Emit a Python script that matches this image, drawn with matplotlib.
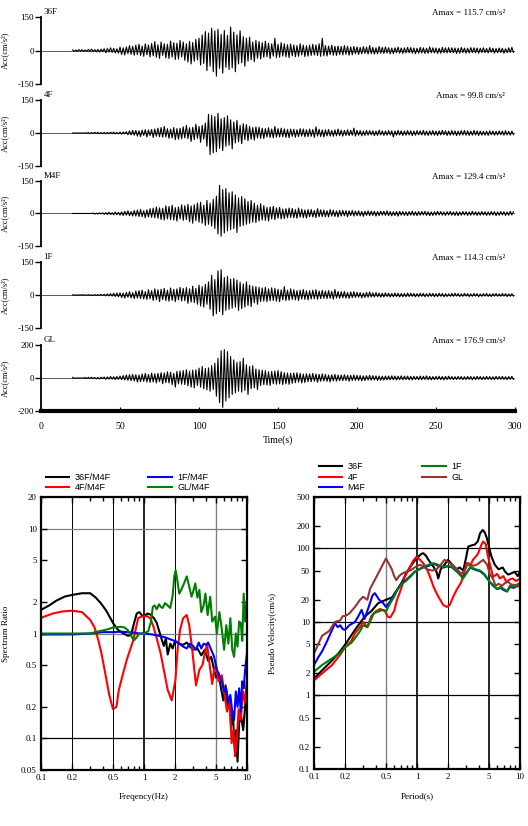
"""
Acceleration records, spectrum ratios and pseudo velocity spectra
"""
import numpy as np
import matplotlib
matplotlib.use('Agg')
import matplotlib.pyplot as plt

plt.rcParams['font.family'] = ['Liberation Serif', 'DejaVu Serif']

# ---- acceleration traces, one value per second starting at t = 20 s ----
t_start = 20
trace_names = ['36F', '4F', 'M4F', '1F', 'GL']
amax_values = [115.7, 99.8, 129.4, 114.3, 176.9]
ylims = [150, 150, 150, 150, 200]

acc_36f = [
    3, -4, 2, -3, 4, -2, 3, -4, 2, -3, 5, -4, 6, -5, 4, -6, 5, -7, 6, -5,
    8, -10, 9, -7, 12, -9, 10, -11, 8, -12, 15, -18, 12, -20, 16, -14, 22, -17, 19, -21,
    24, -18, 28, -22, 20, -26, 30, -19, 25, -28, 32, -24, 40, -30, 26, -35, 38, -22, 30, -33,
    28, -36, 42, -30, 35, -40, 33, -38, 45, -29, 38, -44, 30, -52, 41, -60, 36, -48, 50, -42,
    55, -65, 70, -58, 85, -90, 78, -70, 100, -95, 88, -115, 95, -80, 72, -102, 90, -75, 68, -85,
    105, -78, 82, -95, 70, -60, 88, -55, 62, -70, 55, -48, 60, -42, 38, -50, 45, -35, 40, -38,
    35, -30, 42, -28, 33, -36, 30, -25, 55, -32, 28, -30, 35, -25, 30, -28, 26, -32, 29, -24,
    25, -28, 22, -26, 30, -20, 24, -27, 21, -25, 24, -22, 28, -20, 25, -23, 30, -26, 55, -24,
    22, -25, 20, -18, 24, -21, 19, -22, 20, -18, 18, -20, 22, -17, 19, -21, 16, -19, 18, -15,
    16, -18, 14, -15, 17, -13, 15, -16, 22, -14, 14, -16, 12, -15, 18, -12, 14, -13, 16, -11,
    13, -15, 11, -14, 12, -10, 15, -12, 11, -13, 12, -11, 14, -10, 13, -12, 11, -14, 10, -12,
    14, -11, 12, -13, 10, -12, 16, -10, 12, -11, 11, -13, 10, -12, 14, -10, 12, -11, 13, -10,
    12, -10, 11, -13, 10, -12, 14, -9, 11, -12, 10, -11, 13, -9, 12, -10, 11, -12, 10, -9,
    12, -10, 9, -11, 13, -8, 10, -12, 9, -10, 11, -9, 10, -12, 8, -10, 12, -9, 14, -8,
]
acc_4f = [
    0, 0, 0, 0, 0, 0, 0, 0, 0, 0, 2, -3, 2, -2, 3, -2, 3, -3, 2, -3,
    3, -4, 3, -3, 4, -3, 4, -4, 3, -4, 4, -5, 5, -4, 6, -8, 10, -9, 12, -10,
    12, -14, 10, -16, 13, -11, 15, -18, 14, -12, 16, -20, 18, -15, 22, -17, 25, -19, 30, -18,
    20, -24, 18, -22, 25, -30, 20, -28, 22, -26, 28, -22, 35, -25, 24, -38, 26, -30, 40, -24,
    30, -42, 35, -28, 45, -60, 85, -98, 80, -90, 75, -85, 90, -70, 65, -80, 70, -60, 78, -55,
    60, -72, 50, -45, 58, -40, 35, -48, 42, -30, 38, -35, 30, -28, 25, -32, 28, -22, 26, -24,
    22, -25, 20, -18, 24, -20, 18, -22, 30, -19, 20, -18, 22, -17, 19, -20, 16, -21, 18, -15,
    17, -19, 15, -16, 20, -14, 18, -17, 15, -16, 18, -15, 16, -20, 28, -14, 17, -16, 14, -18,
    15, -13, 16, -14, 12, -15, 14, -13, 18, -12, 13, -14, 12, -11, 15, -12, 13, -10, 22, -14,
    12, -10, 11, -13, 9, -11, 12, -10, 11, -9, 10, -12, 9, -11, 13, -9, 10, -11, 9, -10,
    11, -9, 10, -18, 9, -10, 12, -9, 10, -11, 9, -10, 11, -9, 10, -12, 9, -10, 11, -8,
    10, -9, 12, -10, 9, -11, 10, -9, 11, -10, 9, -11, 10, -9, 12, -8, 10, -11, 9, -10,
    11, -9, 10, -12, 9, -10, 11, -9, 12, -10, 10, -11, 9, -10, 12, -9, 10, -11, 9, -10,
    8, -10, 9, -11, 10, -8, 9, -10, 8, -9, 10, -8, 9, -10, 11, -9, 8, -10, 9, -8,
]
acc_m4f = [
    0, 0, 0, 0, 0, 0, 0, 0, 0, 0, 0, 0, 0, 2, -3, 2, -3, 3, -2, 3,
    -4, 4, -5, 6, -5, 4, -6, 7, -6, 5, -8, 7, -9, 10, -8, 12, -10, 9, -12, 14,
    -12, 16, -14, 18, -15, 13, -20, 17, -16, 22, -18, 25, -20, 30, -22, 26, -28, 24, -30, 35,
    -25, 32, -28, 38, -30, 27, -35, 30, -25, 40, -32, 36, -28, 42, -38, 35, -45, 40, -33, 48,
    -40, 52, -45, 38, -55, 60, -50, 48, -58, 65, -70, 80, -95, 130, -105, 110, -90, 115, -80, 95,
    -75, 100, -70, 85, -88, 72, -60, 78, -55, 68, -50, 55, -45, 60, -40, 48, -42, 38, -35, 45,
    -30, 36, -32, 28, -35, 30, -25, 33, -28, 26, -22, 28, -25, 20, -24, 22, -20, 25, -18, 23,
    -20, 18, -22, 25, -17, 20, -19, 16, -21, 18, -15, 18, -16, 14, -19, 22, -15, 17, -14, 16,
    -15, 13, -16, 18, -12, 15, -14, 12, -16, 14, -12, 14, -11, 13, -15, 12, -10, 14, -12, 11,
    -10, 12, -11, 9, -13, 10, -9, 12, -10, 11, -9, 10, -12, 9, -10, 11, -8, 10, -9, 12,
    -10, 9, -11, 8, -10, 9, -12, 10, -8, 9, -9, 8, -10, 9, -8, 11, -9, 8, -10, 9,
    -8, 9, -7, 10, -9, 8, -10, 7, -9, 8, -8, 10, -7, 9, -8, 7, -9, 8, -7, 10,
    -8, 7, -9, 8, -10, 7, -8, 9, -7, 8, -9, 7, -8, 10, -7, 8, -9, 7, -8, 9,
    -7, 8, -9, 7, -8, 9, -7, 8, -10, 7, -8, 9, -7, 8, -9, 7, -8, 10, -7, 8,
]
acc_1f = [
    1, -1, 1, -2, 1, -1, 2, -1, 1, -2, 2, -2, 1, -2, 2, -3, 2, -2, 3, -2,
    3, -4, 5, -4, 6, -5, 8, -7, 9, -8, 10, -12, 9, -14, 12, -10, 15, -13, 11, -16,
    18, -14, 20, -16, 22, -18, 15, -20, 24, -17, 20, -25, 28, -22, 24, -30, 26, -21, 30, -25,
    22, -28, 32, -24, 26, -30, 28, -22, 35, -27, 30, -26, 34, -38, 28, -32, 40, -35, 30, -42,
    45, -50, 38, -55, 48, -42, 60, -65, 90, -95, 70, -85, 110, -75, 115, -90, 80, -70, 85, -65,
    72, -60, 75, -55, 68, -70, 58, -62, 50, -55, 60, -48, 45, -52, 40, -35, 38, -42, 35, -30,
    32, -28, 35, -30, 28, -26, 33, -25, 30, -28, 26, -30, 24, -22, 38, -25, 22, -24, 28, -20,
    24, -22, 20, -25, 22, -18, 25, -20, 19, -22, 20, -18, 22, -17, 24, -19, 18, -16, 21, -15,
    18, -16, 20, -15, 17, -19, 25, -14, 16, -15, 15, -13, 16, -14, 12, -15, 14, -12, 15, -11,
    12, -10, 11, -13, 9, -11, 12, -10, 14, -9, 10, -9, 11, -8, 9, -10, 8, -9, 10, -7,
    8, -9, 7, -8, 9, -7, 8, -9, 7, -8, 7, -8, 9, -7, 8, -6, 7, -8, 6, -7,
    8, -6, 7, -8, 6, -7, 8, -6, 7, -8, 6, -7, 8, -6, 7, -8, 6, -7, 5, -6,
    7, -6, 8, -5, 6, -7, 5, -6, 7, -5, 6, -7, 5, -6, 7, -5, 6, -8, 5, -6,
    6, -5, 7, -6, 5, -7, 6, -5, 7, -6, 5, -6, 7, -5, 6, -7, 5, -6, 6, -5,
]
acc_gl = [
    4, -2, 0, 0, 0, 0, 0, 0, 3, -3, 4, -3, 5, -4, 3, -5, 4, -6, 5, -4,
    6, -8, 7, -6, 9, -7, 8, -10, 9, -8, 12, -10, 15, -12, 18, -14, 20, -16, 22, -18,
    20, -24, 18, -22, 25, -20, 28, -24, 22, -26, 30, -24, 26, -30, 28, -22, 32, -35, 30, -28,
    38, -30, 35, -40, 28, -55, 40, -35, 42, -38, 45, -40, 50, -48, 42, -55, 48, -60, 50, -45,
    60, -55, 70, -65, 58, -72, 62, -80, 75, -70, 90, -110, 120, -150, 165, -178, 172, -140, 160, -120,
    130, -100, 110, -90, 95, -80, 100, -85, 120, -75, 80, -100, 70, -65, 75, -60, 55, -70, 50, -45,
    48, -40, 45, -42, 38, -45, 40, -35, 42, -38, 45, -35, 38, -40, 32, -35, 30, -38, 28, -32,
    30, -28, 32, -25, 28, -30, 24, -27, 26, -22, 25, -22, 28, -20, 24, -26, 22, -20, 25, -18,
    22, -20, 18, -24, 20, -17, 22, -19, 18, -16, 18, -16, 20, -15, 17, -19, 16, -15, 18, -14,
    16, -14, 15, -17, 13, -15, 14, -12, 16, -13, 14, -12, 13, -15, 12, -14, 11, -13, 12, -11,
    12, -11, 13, -10, 12, -12, 11, -10, 13, -11, 11, -10, 12, -11, 10, -12, 11, -9, 10, -11,
    12, -10, 11, -9, 13, -10, 10, -11, 9, -10, 10, -9, 11, -10, 9, -11, 10, -9, 11, -8,
    9, -10, 8, -9, 10, -8, 9, -10, 8, -9, 10, -8, 9, -10, 8, -9, 10, -8, 9, -10,
    8, -9, 10, -8, 9, -10, 8, -9, 10, -8, 9, -8, 10, -9, 8, -10, 9, -8, 10, -9,
]
traces = [acc_36f, acc_4f, acc_m4f, acc_1f, acc_gl]

# ---- spectrum ratio (relative to M4F) ----
ratio_36f_f = [0.1, 0.12, 0.14, 0.17, 0.2, 0.25, 0.3, 0.34, 0.38, 0.43,
               0.5, 0.56, 0.63, 0.7, 0.75, 0.8, 0.85, 0.9, 0.95, 1.0,
               1.08, 1.15, 1.25, 1.33, 1.45, 1.56, 1.63, 1.7, 1.8, 1.9,
               2.0, 2.2, 2.4, 2.6, 2.8, 3.0, 3.3, 3.6, 3.9, 4.2,
               4.5, 4.8, 5.0, 5.3, 5.6, 5.9, 6.2, 6.5, 6.8, 7.0,
               7.3, 7.5, 7.7, 7.9, 8.1, 8.4, 8.8, 9.2, 9.6, 10]
ratio_36f = [1.68, 1.85, 2.05, 2.25, 2.33, 2.42, 2.42, 2.2, 1.95, 1.65,
             1.26, 1.08, 1.0, 0.95, 0.97, 1.25, 1.55, 1.6, 1.5, 1.45,
             1.55, 1.52, 1.4, 1.26, 0.95, 0.76, 0.9, 0.63, 0.8, 0.72,
             0.85, 0.8, 0.78, 0.82, 0.75, 0.7, 0.72, 0.62, 0.7, 0.55,
             0.6, 0.45, 0.38, 0.42, 0.3, 0.23, 0.32, 0.2, 0.25, 0.13,
             0.18, 0.1, 0.068, 0.12, 0.06, 0.14, 0.16, 0.12, 0.2, 0.35]
ratio_4f_f = [0.1, 0.13, 0.16, 0.2, 0.25, 0.3, 0.33, 0.36, 0.39, 0.42,
              0.46, 0.5, 0.54, 0.57, 0.62, 0.68, 0.74, 0.79, 0.84, 0.88,
              0.95, 1.06, 1.15, 1.24, 1.35, 1.45, 1.58, 1.7, 1.86, 2.02,
              2.12, 2.24, 2.4, 2.6, 2.75, 2.9, 3.05, 3.2, 3.45, 3.7,
              3.9, 4.1, 4.35, 4.6, 4.8, 5.0, 5.3, 5.7, 6.0, 6.4,
              6.8, 7.1, 7.4, 7.7, 8.0, 8.3, 8.7, 9.2, 9.6, 10]
ratio_4f = [1.41, 1.55, 1.62, 1.65, 1.6, 1.35, 1.15, 0.87, 0.62, 0.42,
            0.26, 0.19, 0.2, 0.29, 0.4, 0.56, 0.72, 0.87, 1.15, 1.41,
            1.45, 1.47, 1.4, 1.15, 0.85, 0.65, 0.42, 0.29, 0.23, 0.36,
            0.7, 1.08, 1.4, 1.5, 1.2, 0.79, 0.5, 0.32, 0.45, 0.5,
            0.65, 0.79, 0.5, 0.33, 0.45, 0.5, 0.35, 0.4, 0.28, 0.18,
            0.22, 0.09, 0.12, 0.068, 0.1, 0.19, 0.15, 0.28, 0.22, 0.35]
ratio_1f_f = [0.1, 0.2, 0.3, 0.4, 0.5, 0.6, 0.7, 0.8, 0.9, 1.0,
              1.2, 1.4, 1.6, 1.8, 2.0, 2.2, 2.4, 2.6, 2.8, 3.0,
              3.2, 3.4, 3.6, 3.8, 4.0, 4.2, 4.5, 4.8, 5.1, 5.4,
              5.7, 6.0, 6.3, 6.6, 6.9, 7.2, 7.5, 7.8, 8.1, 8.4,
              8.7, 9.0, 9.3, 9.6, 10]
ratio_1f = [0.98, 0.98, 1.0, 1.03, 1.03, 1.04, 1.03, 1.02, 1.0, 1.0,
            0.98, 0.95, 0.92, 0.88, 0.85, 0.8, 0.75, 0.72, 0.8, 0.76,
            0.7, 0.82, 0.72, 0.8, 0.78, 0.82, 0.7, 0.6, 0.45, 0.4,
            0.35, 0.28, 0.3, 0.22, 0.26, 0.18, 0.15, 0.28, 0.2, 0.3,
            0.18, 0.35, 0.3, 0.45, 0.65]
ratio_gl_f = [0.1, 0.2, 0.3, 0.35, 0.4, 0.45, 0.5, 0.6, 0.65, 0.7,
              0.75, 0.8, 0.85, 0.9, 1.0, 1.1, 1.17, 1.22, 1.27, 1.33,
              1.4, 1.45, 1.52, 1.6, 1.7, 1.8, 1.9, 1.97, 2.03, 2.1,
              2.2, 2.3, 2.45, 2.6, 2.75, 2.9, 3.0, 3.15, 3.3, 3.45,
              3.6, 3.77, 3.95, 4.15, 4.4, 4.6, 4.9, 5.1, 5.4, 5.7,
              6.0, 6.3, 6.6, 6.9, 7.2, 7.5, 7.8, 8.1, 8.4, 8.7,
              9.0, 9.3, 9.6, 10]
ratio_gl = [1.0, 1.0, 1.0, 1.04, 1.07, 1.1, 1.14, 1.16, 1.14, 1.07,
            0.95, 0.86, 0.92, 1.0, 1.0, 1.05, 1.3, 1.8, 1.85, 1.7,
            1.9, 1.8, 1.75, 1.95, 1.85, 1.75, 2.3, 3.5, 4.0, 3.3,
            2.4, 2.6, 3.0, 3.5, 2.8, 2.24, 2.5, 3.0, 2.2, 2.6,
            1.6, 1.8, 2.4, 1.5, 2.24, 1.3, 1.45, 1.0, 1.6, 1.1,
            0.7, 1.2, 0.8, 1.4, 0.7, 0.6, 1.0, 0.75, 1.3, 1.26,
            0.85, 2.4, 1.3, 2.1]

# ---- pseudo velocity spectra ----
psv_36f_t = [0.1, 0.12, 0.15, 0.18, 0.2, 0.25, 0.31, 0.36, 0.42, 0.5,
             0.59, 0.65, 0.71, 0.78, 0.86, 0.95, 1.03, 1.1, 1.15, 1.22,
             1.29, 1.45, 1.55, 1.61, 1.7, 1.85, 2.0, 2.2, 2.42, 2.6,
             2.82, 3.0, 3.15, 3.4, 3.65, 3.9, 4.1, 4.35, 4.55, 4.76,
             5.0, 5.3, 5.7, 6.2, 6.8, 7.2, 7.7, 8.3, 8.9, 9.5, 10]
psv_36f = [1.7, 2.2, 3.0, 4.0, 4.9, 7.8, 11.8, 14, 18, 20,
           22, 28, 34, 45, 56, 68, 77, 84, 86, 80,
           70, 56, 48, 39, 52, 60, 70, 60, 52, 55,
           50, 75, 106, 110, 113, 125, 160, 178, 165, 140,
           105, 77, 60, 52, 55, 48, 44, 46, 48, 42, 48]
psv_4f_t = [0.1, 0.12, 0.15, 0.18, 0.2, 0.23, 0.25, 0.28, 0.3, 0.33,
            0.36, 0.4, 0.44, 0.49, 0.52, 0.55, 0.6, 0.64, 0.7, 0.76,
            0.85, 0.92, 0.99, 1.07, 1.15, 1.25, 1.34, 1.45, 1.55, 1.68,
            1.8, 1.95, 2.08, 2.25, 2.42, 2.7, 3.05, 3.3, 3.5, 3.75,
            3.94, 4.2, 4.4, 4.65, 4.9, 5.2, 5.5, 6.0, 6.4, 6.9,
            7.4, 8.0, 8.5, 9.2, 10]
psv_4f = [1.6, 2.0, 2.6, 3.6, 4.5, 5.5, 7.0, 8.5, 10, 8.5,
          12, 14, 15, 14, 11.8, 11.5, 14, 20, 28, 41,
          55, 68, 77, 70, 63, 52, 41, 30, 24.6, 20,
          17, 16, 17, 22, 27, 35, 63, 58, 70, 78,
          86, 110, 124, 115, 77, 55, 41, 45, 39, 42,
          35, 38, 39, 36, 39]
psv_m4f_t = [0.1, 0.11, 0.12, 0.13, 0.14, 0.16, 0.17, 0.18, 0.19, 0.2,
             0.22, 0.25, 0.27, 0.29, 0.31, 0.34, 0.37, 0.39, 0.43, 0.47,
             0.5, 0.55, 0.6, 0.65, 0.7, 0.78, 0.86, 0.95, 1.05, 1.15,
             1.3, 1.45, 1.6, 1.8, 2.0, 2.2, 2.5, 2.8, 3.0, 3.3,
             3.7, 4.1, 4.5, 5.1, 5.5, 6.0, 6.5, 7.0, 7.5, 8.0,
             8.7, 9.3, 10]
psv_m4f = [2.6, 3.3, 4.0, 5.0, 6.3, 9.6, 8.5, 9.0, 8.0, 7.8,
           9.0, 10, 12, 14.6, 11, 16, 23, 24.6, 20, 18,
           16, 19, 24, 28, 33, 37, 42, 48, 52, 55,
           58, 62, 58, 55, 57, 55, 47, 40, 46, 55,
           51, 49, 44, 35, 31, 28, 29, 27, 26, 30,
           29, 31, 33]
psv_1f_t = [0.1, 0.12, 0.13, 0.15, 0.18, 0.2, 0.23, 0.25, 0.28, 0.3,
            0.33, 0.35, 0.38, 0.4, 0.43, 0.47, 0.5, 0.55, 0.6, 0.64,
            0.7, 0.78, 0.86, 0.95, 1.05, 1.15, 1.3, 1.45, 1.6, 1.8,
            2.0, 2.2, 2.5, 2.8, 3.0, 3.3, 3.7, 4.1, 4.5, 5.1,
            5.5, 6.0, 6.5, 7.0, 7.5, 8.0, 8.7, 9.3, 10]
psv_1f = [2.1, 2.6, 2.8, 3.2, 3.8, 4.5, 5.2, 6.0, 7.5, 9.0,
          8.5, 10, 13, 13.5, 14, 14.6, 14, 18, 22, 27,
          32, 36, 41, 48, 52, 56, 60, 63, 60, 56,
          58, 56, 48, 39, 45, 56, 52, 50, 45, 35,
          32, 28, 30, 28, 26, 31, 30, 32, 34]
psv_gl_t = [0.1, 0.11, 0.12, 0.13, 0.14, 0.16, 0.18, 0.19, 0.2, 0.22,
            0.25, 0.28, 0.3, 0.33, 0.35, 0.38, 0.4, 0.45, 0.5, 0.54,
            0.57, 0.6, 0.63, 0.67, 0.71, 0.78, 0.86, 0.95, 1.07, 1.15,
            1.25, 1.4, 1.55, 1.7, 1.85, 2.0, 2.2, 2.45, 2.7, 2.9,
            3.15, 3.5, 3.8, 4.1, 4.4, 4.8, 5.1, 5.5, 5.8, 6.2,
            6.7, 7.2, 7.7, 8.3, 8.9, 9.5, 10]
psv_gl = [3.7, 5.0, 6.5, 7.0, 7.5, 10, 10.5, 12, 12, 13,
          16, 20, 22, 20, 28, 35, 40, 55, 73, 60,
          52, 42, 37, 42, 45, 48, 50, 55, 60, 57,
          52, 50, 52, 60, 70, 65, 60, 52, 45, 50,
          63, 58, 60, 65, 70, 60, 45, 38, 31, 33,
          31, 34, 35, 32, 32, 30, 34]

fig = plt.figure(figsize=(5.28, 8.26), dpi=100)

# ---------------- time histories ----------------
panel_bottoms = [0.8983, 0.7990, 0.7022, 0.6029, 0.5024]
panel_heights = [0.0811, 0.0799, 0.0787, 0.0799, 0.0799]
for i, name in enumerate(trace_names):
    ax = fig.add_axes([0.0777, panel_bottoms[i], 0.8977, panel_heights[i]])
    vals = np.array(traces[i], dtype=float)
    t = t_start + np.arange(len(vals))
    ax.axhline(0, color='0.35', lw=0.7, zorder=1)
    ax.plot(t, vals, color='black', lw=0.8, zorder=2)
    lim = ylims[i]
    ax.set_xlim(0, 300)
    ax.set_ylim(-lim, lim)
    ax.set_yticks([lim, 0, -lim])
    ax.set_yticklabels([str(lim), '0', str(-lim)])
    ax.tick_params(axis='y', direction='out', length=4, width=1, labelsize=6.5, pad=1)
    for s in ['top', 'right']:
        ax.spines[s].set_visible(False)
    ax.spines['left'].set_linewidth(1.3)
    ax.set_ylabel('Acc(cm/s²)', fontsize=6)
    ax.yaxis.set_label_coords(-0.068, 0.5)
    ax.text(0.005, 1.07, name, transform=ax.transAxes, fontsize=6.5,
            ha='left', va='center')
    ax.text(0.979, 1.06, 'Amax = %.1f cm/s²' % amax_values[i],
            transform=ax.transAxes, fontsize=6.5, ha='right', va='center')
    if i < len(trace_names) - 1:
        ax.spines['bottom'].set_visible(False)
        ax.set_xticks([])
    else:
        ax.spines['bottom'].set_linewidth(3)
        ax.set_xticks(np.arange(0, 301, 50))
        ax.tick_params(axis='x', direction='in', length=3, labelsize=7, pad=8)
        ax.set_xlabel('Time(s)', fontsize=7, labelpad=3)


def log_frame(ax, xlim, ylim, xticks, yticks):
    ax.set_xscale('log')
    ax.set_yscale('log')
    ax.set_xlim(*xlim)
    ax.set_ylim(*ylim)
    ax.set_xticks(xticks)
    ax.set_xticklabels([('%g' % v) for v in xticks])
    ax.set_yticks(yticks)
    ax.set_yticklabels([('%g' % v) for v in yticks])
    ax.yaxis.set_minor_locator(matplotlib.ticker.NullLocator())
    ax.tick_params(which='both', direction='in', top=True, right=True,
                   labelsize=6.5, width=1)
    ax.tick_params(which='major', length=4, pad=3)
    ax.tick_params(which='minor', length=3)
    for s in ax.spines.values():
        s.set_linewidth(1.6)


# ---------------- spectrum ratio ----------------
ax1 = fig.add_axes([0.0777, 0.0678, 0.390, 0.3305])
log_frame(ax1, (0.1, 10), (0.05, 20), [0.1, 0.2, 0.5, 1, 2, 5, 10],
          [0.05, 0.1, 0.2, 0.5, 1, 2, 5, 10, 20])
for xv, c, w in [(0.2, 'black', 0.7), (0.5, 'black', 0.7), (1, 'black', 1.2),
                 (2, 'black', 0.7), (5, '0.5', 1.0)]:
    ax1.axvline(xv, color=c, lw=w, zorder=1)
for yv, c in [(10, '0.5'), (1, '0.5'), (0.1, 'black')]:
    ax1.axhline(yv, color=c, lw=0.9, zorder=1)
ax1.plot(ratio_36f_f, ratio_36f, color='black', lw=1.5, label='36F/M4F')
ax1.plot(ratio_4f_f, ratio_4f, color='#ff0000', lw=1.5, label='4F/M4F')
ax1.plot(ratio_1f_f, ratio_1f, color='#0000ff', lw=1.5, label='1F/M4F')
ax1.plot(ratio_gl_f, ratio_gl, color='#008000', lw=1.5, label='GL/M4F')
ax1.set_xlabel('Freqency(Hz)', fontsize=6.5, labelpad=8)
ax1.set_ylabel('Spectrum Ratio', fontsize=6.5)
ax1.yaxis.set_label_coords(-0.15, 0.5)
ax1.legend(ncol=2, loc='lower left', bbox_to_anchor=(0.0, 1.0), frameon=False,
           prop={'family': 'Liberation Sans', 'size': 6.5}, handlelength=2.6,
           labelspacing=0.2, columnspacing=4.2, borderaxespad=0.1, handletextpad=0.6)

# ---------------- pseudo velocity ----------------
ax2 = fig.add_axes([0.5947, 0.069, 0.390, 0.3293])
log_frame(ax2, (0.1, 10), (0.1, 500), [0.1, 0.2, 0.5, 1, 2, 5, 10],
          [0.1, 0.2, 0.5, 1, 2, 5, 10, 20, 50, 100, 200, 500])
for xv, c, w in [(0.2, 'black', 0.7), (0.5, '0.5', 1.0), (1, 'black', 1.2),
                 (2, 'black', 0.7), (5, 'black', 1.2)]:
    ax2.axvline(xv, color=c, lw=w, zorder=1)
for yv in [100, 10, 1]:
    ax2.axhline(yv, color='black', lw=0.9, zorder=1)
ax2.plot(psv_36f_t, psv_36f, color='black', lw=1.5, label='36F')
ax2.plot(psv_4f_t, psv_4f, color='#ff0000', lw=1.5, label='4F')
ax2.plot(psv_m4f_t, psv_m4f, color='#0000ff', lw=1.5, label='M4F')
ax2.plot(psv_1f_t, psv_1f, color='#008000', lw=1.5, label='1F')
ax2.plot(psv_gl_t, psv_gl, color='#993333', lw=1.5, label='GL')
ax2.set_xlabel('Period(s)', fontsize=6.5, labelpad=8)
ax2.set_ylabel('Pseudo Velocity(cm/s)', fontsize=6.5)
ax2.yaxis.set_label_coords(-0.18, 0.5)
ax2.legend(ncol=2, loc='lower left', bbox_to_anchor=(0.0, 1.0), frameon=False,
           prop={'family': 'Liberation Sans', 'size': 6.5}, handlelength=2.6,
           labelspacing=0.2, columnspacing=6.3, borderaxespad=0.1, handletextpad=0.6)

fig.savefig('out.png', dpi=100)
